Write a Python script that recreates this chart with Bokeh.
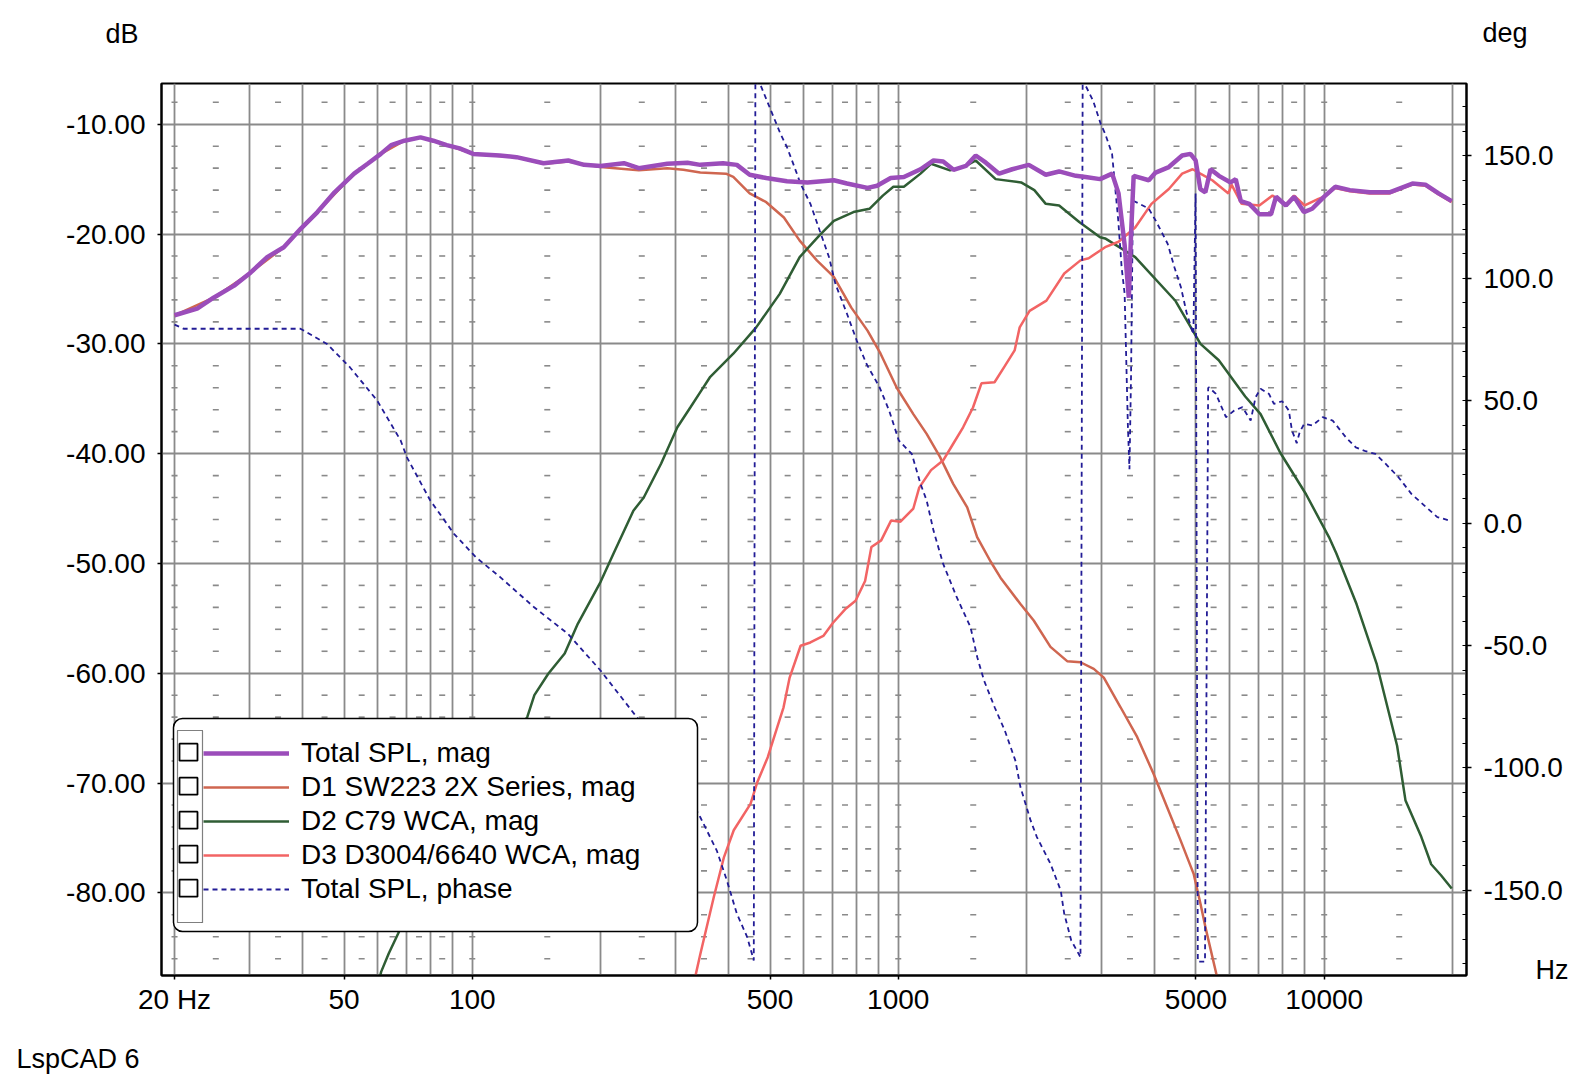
from bokeh.plotting import figure
from bokeh.models import (Range1d, LinearAxis, FixedTicker, PrintfTickFormatter, Legend,
                          LegendItem, Label, BoxAnnotation)
from bokeh.embed import file_html
from bokeh.resources import INLINE

# ---------------- data ----------------
freq_total = [20, 22.6, 24.7, 27.6, 30.2, 33.0, 36.1, 39.6, 43.3, 47.5,
              52.8, 56.8, 61.0, 64.5, 69.3, 75.6, 81.0, 87.1, 93.4, 100.5,
              116, 127, 147, 168, 183, 200, 227, 246, 287, 320,
              343, 388, 418, 448, 490, 548, 612, 706, 758, 847,
              892, 960, 1031, 1128, 1210, 1275, 1348, 1442, 1520, 1606,
              1725, 1852, 2025, 2220, 2386, 2612, 2752, 2978, 3178, 3290,
              3400, 3478, 3520, 3570, 3875, 4019, 4318, 4640, 4853, 4990,
              5119, 5260, 5410, 5660, 6030, 6200, 6370, 6670, 7040, 7500,
              7710, 8130, 8500, 8960, 9370, 10000, 10610, 11490, 12800, 14240,
              16110, 17280, 18560, 19920]
spl_total = [-27.4, -26.8, -25.8, -24.7, -23.5, -22.1, -21.2, -19.5, -18.0, -16.2,
             -14.5, -13.6, -12.7, -11.9, -11.5, -11.2, -11.5, -11.9, -12.2, -12.7,
             -12.85, -13.0, -13.55, -13.3, -13.7, -13.8, -13.55, -14.0, -13.6, -13.5,
             -13.7, -13.55, -13.7, -14.6, -14.9, -15.2, -15.3, -15.1, -15.4, -15.8,
             -15.6, -14.9, -14.8, -14.1, -13.3, -13.4, -14.15, -13.8, -12.85, -13.5,
             -14.5, -14.1, -13.7, -14.6, -14.3, -14.7, -14.8, -15.0, -14.5, -16.3,
             -21.0, -25.8, -20.0, -14.7, -15.1, -14.4, -13.9, -12.85, -12.7, -13.3,
             -15.9, -16.2, -14.1, -14.7, -15.3, -15.0, -17.0, -17.25, -18.2, -18.2,
             -16.6, -17.4, -16.6, -18.0, -17.7, -16.6, -15.7, -16.0, -16.2, -16.2,
             -15.4, -15.5, -16.3, -17.0]

freq_d1 = [20, 24.7, 30.2, 36.1, 43.3, 52.8, 61.0, 69.3, 75.6, 87.1,
           100.5, 127, 147, 168, 200, 246, 287, 313, 343, 394,
           410, 448, 490, 539, 587, 644, 706, 776, 847, 909,
           992, 1085, 1166, 1253, 1346, 1452, 1532, 1646, 1738, 1936,
           2080, 2277, 2492, 2678, 2878, 3038, 3326, 3638, 3980, 4278,
           4598, 4940, 5123, 5260, 5560, 5700]
spl_d1 = [-27.4, -25.8, -23.5, -21.2, -18.0, -14.5, -12.7, -11.5, -11.2, -11.9,
          -12.7, -13.0, -13.6, -13.4, -13.9, -14.2, -14.0, -14.15, -14.4, -14.5,
          -14.8, -16.3, -17.1, -18.5, -20.6, -22.4, -23.9, -26.7, -28.8, -30.9,
          -34.0, -36.4, -38.2, -40.3, -42.75, -44.9, -47.6, -49.8, -51.3, -53.7,
          -55.2, -57.6, -58.9, -59.0, -59.6, -60.4, -63.1, -65.8, -69.2, -72.2,
          -75.2, -78.3, -81.0, -83.1, -87.1, -89.0]

freq_d2 = [60, 61.1, 63.7, 67, 75, 85, 100, 115, 134.6, 139.9,
           150.8, 164.8, 176.9, 200, 214.6, 238.9, 252.7, 277.6, 303, 325,
           343, 362, 410, 464, 527, 587, 654, 706, 785, 856,
           920, 974, 1031, 1128, 1194, 1323, 1442, 1520, 1693, 1943,
           2087, 2220, 2386, 2660, 2978, 3060, 3600, 4478, 5123, 5656,
           6526, 7090, 7880, 9065, 10260, 10680, 11910, 13290, 14830, 15520,
           16900, 17830, 18800, 19920]
spl_d2 = [-88.5, -87.2, -85.5, -83.7, -79.5, -75.5, -71.0, -67.5, -64.0, -62.0,
          -60.05, -58.2, -55.5, -51.7, -49.1, -45.2, -44.0, -40.9, -37.6, -35.8,
          -34.4, -33.0, -30.9, -28.5, -25.45, -22.1, -20.1, -18.8, -18.0, -17.7,
          -16.5, -15.7, -15.7, -14.5, -13.6, -14.2, -13.8, -13.3, -15.0, -15.3,
          -16.0, -17.25, -17.4, -18.9, -20.3, -20.4, -22.1, -26.1, -30.0, -31.5,
          -34.8, -36.4, -39.9, -43.7, -47.6, -49.1, -53.7, -59.2, -66.6, -71.6,
          -74.9, -77.4, -78.4, -79.6]

freq_d3 = [330, 343, 368.9, 389.5, 411, 450, 467, 494, 520, 538,
           556, 590, 622, 667, 703, 754, 794, 836, 865, 912,
           962, 1012, 1085, 1120, 1194, 1276, 1346, 1420, 1498, 1568,
           1683, 1774, 1876, 1928, 2034, 2228, 2453, 2678, 2800, 3060,
           3290, 3600, 3930, 4318, 4640, 4910, 5120, 5460, 5960, 6060,
           6400, 7040, 7560, 8130, 8500, 9000, 9690, 10000, 10610, 11490,
           12800, 14240, 16110, 17280, 18560, 19920]
spl_d3 = [-88.5, -85.6, -80.4, -76.8, -74.3, -71.9, -69.9, -67.65, -64.9, -63.1,
          -60.4, -57.5, -57.2, -56.6, -55.4, -54.1, -53.4, -51.6, -48.5, -47.9,
          -46.1, -46.2, -45.0, -43.1, -41.5, -40.6, -39.1, -37.6, -35.8, -33.6,
          -33.5, -32.1, -30.6, -28.5, -27.0, -26.06, -23.6, -22.4, -22.2, -21.2,
          -20.7, -19.4, -17.25, -15.9, -14.5, -14.1, -14.5, -15.1, -16.3, -15.5,
          -17.25, -17.4, -16.5, -17.3, -16.5, -17.4, -16.8, -16.6, -15.8, -16.1,
          -16.3, -16.3, -15.5, -15.6, -16.4, -17.1]

freq_phase = [20, 21, 39.5, 45.6, 51.6, 59.8, 67.9, 70.2, 79.7, 90.6,
              102, 116.3, 139.7, 167.7, 200, 240, 280, 310, 343, 375,
              396, 418, 442, 458, 462, 477, 529, 548, 567, 590,
              622, 654, 688, 712, 758, 799, 842, 904, 952, 1003,
              1076, 1128, 1166, 1210, 1275, 1372, 1478, 1533, 1590, 1684,
              1779, 1883, 1936, 2045, 2116, 2277, 2407, 2453, 2548, 2678,
              2710, 2752, 2867, 2988, 3060, 3177, 3230, 3285, 3345, 3400,
              3460, 3490, 3520, 3556, 3684, 3870, 4020, 4290, 4450, 4610,
              4750, 4930, 4990, 5050, 5250, 5340, 5358, 5570, 5720, 5880,
              6150, 6430, 6720, 6900, 7090, 7420, 7620, 7970, 8260, 8400,
              8620, 8760, 8980, 9380, 9920, 10470, 11240, 11860, 12510, 13190,
              13930, 14940, 16020, 17190, 18430, 19430, 19700]
deg_phase = [81.0, 79.3, 79.3, 73.1, 63.6, 50.0, 33.7, 26.9, 9.2, -4.4,
             -14.0, -22.1, -34.4, -45.2, -60.2, -77.9, -93.0, -106.0, -120.1, -133.7,
             -145.9, -159.5, -169.0, -178.6, 181.0, 178.0, 158.9, 153.4, 146.6, 138.4,
             130.3, 119.4, 108.5, 97.6, 85.4, 74.5, 65.0, 55.4, 45.9, 33.7,
             28.2, 16.0, 9.2, -3.1, -16.7, -30.3, -42.5, -54.8, -64.3, -75.2,
             -84.7, -96.9, -107.8, -121.4, -128.2, -139.1, -150.0, -159.5, -170.4, -177.2,
             181.0, 178.6, 172.4, 162.9, 158.9, 150.7, 137.1, 123.5, 104.4, 93.6,
             40.0, 22.0, 60.0, 131.6, 130.3, 128.4, 123.5, 114.0, 104.4, 96.2,
             86.0, 77.0, 134.5, -179.0, -179.0, 55.0, 55.4, 52.7, 48.0, 43.2,
             45.9, 47.3, 41.8, 51.3, 54.8, 52.7, 48.6, 49.7, 45.9, 37.8,
             32.6, 37.1, 40.5, 39.8, 43.2, 41.8, 35.0, 30.9, 29.3, 28.2,
             24.2, 18.7, 11.9, 7.1, 2.4, 1.3, 1.3]

x_ticks = [20, 50, 100, 500, 1000, 5000, 10000]
x_tick_labels = ["20 Hz", "50", "100", "500", "1000", "5000", "10000"]
db_ticks = [-80, -70, -60, -50, -40, -30, -20, -10]
deg_ticks = [-150, -100, -50, 0, 50, 100, 150]
legend_labels = ["Total SPL, mag", "D1 SW223 2X Series, mag", "D2 C79 WCA, mag",
                 "D3 D3004/6640 WCA, mag", "Total SPL, phase"]

# ---------------- layout ----------------
FONT = "Liberation Sans"
W, H = 1585, 1080
FL, FT, FW, FH = 161, 83, 1305, 892
PX0 = FL               # page x of frame left
PY1 = FT + FH          # page y of frame bottom


def sx(X):
    return X - PX0


def sy(Y):
    return PY1 - Y


XMIN, XMAX = 18.64, 21580
p = figure(width=W, height=H, x_axis_type="log",
           x_range=Range1d(XMIN, XMAX), y_range=Range1d(-87.53, -6.29),
           output_backend="svg", toolbar_location=None,
           min_border_left=FL, min_border_right=W - FL - FW,
           min_border_top=FT, min_border_bottom=H - FT - FH)
p.extra_y_ranges = {"deg": Range1d(-184.7, 179.4)}
p.background_fill_color = "white"
p.border_fill_color = "white"
p.outline_line_color = "black"
p.outline_line_width = 2

GRID = "#8a8a8a"
vgrid = [m * 10 ** e for e in range(1, 5) for m in range(1, 10) if XMIN <= m * 10 ** e <= XMAX]
p.xgrid.ticker = FixedTicker(ticks=vgrid)
p.xgrid.grid_line_color = GRID
p.xgrid.grid_line_width = 1.8
p.ygrid.ticker = FixedTicker(ticks=db_ticks)
p.ygrid.grid_line_color = GRID
p.ygrid.grid_line_width = 1.8

xa = p.xaxis[0]
xa.ticker = FixedTicker(ticks=x_ticks, minor_ticks=[])
xa.major_label_overrides = {t: s for t, s in zip(x_ticks, x_tick_labels)}
ya = p.yaxis[0]
ya.ticker = FixedTicker(ticks=db_ticks, minor_ticks=[])
ya.formatter = PrintfTickFormatter(format="%.2f")
ra = LinearAxis(y_range_name="deg",
                ticker=FixedTicker(ticks=deg_ticks, minor_ticks=list(range(-180, 180, 10))),
                formatter=PrintfTickFormatter(format="%.1f"))
p.add_layout(ra, "right")

for ax in (xa, ya, ra):
    ax.axis_line_color = "black"
    ax.axis_line_width = 2
    ax.major_tick_line_color = "black"
    ax.major_tick_line_width = 1.5
    ax.major_tick_in = 0
    ax.major_label_text_font = FONT
    ax.major_label_text_font_size = "28px"
    ax.major_label_text_color = "black"
xa.major_tick_out = 4
xa.major_label_standoff = 4
ya.major_tick_out = 4
ya.major_label_standoff = 12
ra.major_tick_out = 5
ra.major_label_standoff = 12
ra.minor_tick_in = 4
ra.minor_tick_out = 0
ra.minor_tick_line_color = "black"
ra.minor_tick_line_width = 1.2

# minor grid dashes
dash_x = [20] + [(m + 0.5) * 10 ** e for e in range(1, 5) for m in range(1, 9)
                 if XMIN <= (m + 0.5) * 10 ** e <= XMAX] + [100, 1000, 10000]
dash_y = [v for v in range(-86, -6, 2) if v % 10 != 0]
dx = [x for x in dash_x for _ in dash_y]
dy = [y for _ in dash_x for y in dash_y]
p.scatter(dx, dy, marker="dash", size=6, line_color="#8a8a8a", line_width=1.6)

# curves
r_d1 = p.line(freq_d1, spl_d1, line_color="#cf6650", line_width=2.5)
r_d2 = p.line(freq_d2, spl_d2, line_color="#2f5d34", line_width=2.5)
r_d3 = p.line(freq_d3, spl_d3, line_color="#f26464", line_width=2.5)
r_ph = p.line(freq_phase, deg_phase, y_range_name="deg", line_color="#221c96",
              line_width=1.8, line_dash="5 4")
r_tot = p.line(freq_total, spl_total, line_color="#9b4dba", line_width=4.5)


def screen_box(l, r, t, b, **kw):
    return BoxAnnotation(left=sx(l), right=sx(r), top=sy(t), bottom=sy(b),
                         left_units="screen", right_units="screen",
                         top_units="screen", bottom_units="screen", **kw)


def side_label(txt, x, y, side):
    # labels in side panels are not clipped to the frame; x, y are offsets in the
    # label's own slot (x from the frame's left edge, y up from the slot's bottom)
    p.add_layout(Label(x=x, y=y, x_units="screen", y_units="screen", text=txt,
                       text_font=FONT, text_font_size="27px", text_color="black",
                       text_align="left", text_baseline="alphabetic"), side)


side_label("dB", 105 - PX0, 50, "above")
side_label("deg", 1482 - PX0, 21, "above")
side_label("Hz", 1535 - PX0, 78, "below")
side_label("LspCAD 6", 16 - PX0, 19, "below")

# legend frame
p.add_layout(screen_box(173, 697, 718, 931, fill_color="white", fill_alpha=1.0,
                        line_color="black", line_alpha=1.0, line_width=1.5, border_radius=9))
ROW0, PITCH = 751.7, 34
renderers = [r_tot, r_d1, r_d2, r_d3, r_ph]
legend = Legend(items=[LegendItem(label=l, renderers=[r]) for l, r in zip(legend_labels, renderers)],
                location=(sx(203), sy(ROW0 + 4 * PITCH + PITCH / 2)),
                padding=0, margin=0, spacing=2, glyph_width=86, glyph_height=32,
                label_height=32, label_standoff=12,
                label_text_font=FONT, label_text_font_size="28px", label_text_color="black",
                background_fill_alpha=0, border_line_alpha=0)
p.add_layout(legend, "center")
# check boxes
p.add_layout(screen_box(177, 202, 730, 922, fill_alpha=0, line_color="black", line_alpha=1.0,
                        line_width=1.2, line_dash="1 1"))
for i in range(len(legend_labels)):
    cy = ROW0 + i * PITCH
    p.add_layout(screen_box(179, 197, cy - 8.5, cy + 8.5, fill_color="white", fill_alpha=1,
                            line_color="black", line_alpha=1.0, line_width=1.8))

open("out.html", "w").write(file_html(p, INLINE))
